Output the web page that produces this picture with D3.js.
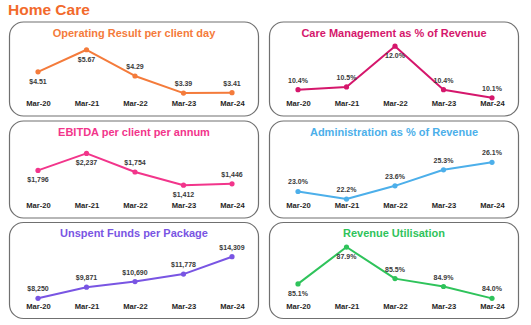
<!DOCTYPE html>
<html><head><meta charset="utf-8">
<script src="https://cdn.jsdelivr.net/npm/d3@7"></script>
<style>
html,body{margin:0;padding:0;background:#fff;}
svg{display:block;font-family:"Liberation Sans",Arial,sans-serif;}
</style></head>
<body>
<script>
// ---- data ----
const categories = ["Mar-20","Mar-21","Mar-22","Mar-23","Mar-24"];
const chartTitles = ["Operating Result per client day","Care Management as % of Revenue","EBITDA per client per annum","Administration as % of Revenue","Unspent Funds per Package","Revenue Utilisation"];
const operatingResult = [4.51, 5.67, 4.29, 3.39, 3.41];
const careManagement = [10.4, 10.5, 12.0, 10.4, 10.1];
const ebitda = [1796, 2237, 1754, 1412, 1446];
const administration = [23.0, 22.2, 23.6, 25.3, 26.1];
const unspentFunds = [8250, 9871, 10690, 11778, 14309];
const revenueUtilisation = [85.1, 87.9, 85.5, 84.9, 84.0];
const yDomains = [[3, 6], [10.0, 12.1], [1040, 2520], [22.15, 28.2], [7860, 16160], [83.8, 88.13]];
const labelSides = [
  ["below","below","above","above","above"],
  ["above","above","below","above","above"],
  ["below","below","above","below","above"],
  ["above","above","above","above","above"],
  ["above","above","above","above","above"],
  ["below","below","above","above","above"]
];
const pageTitle = "Home Care";

const fmtDollar2 = v => "$" + d3.format(".2f")(v);
const fmtDollar0 = v => "$" + d3.format(",.0f")(v);
const fmtPct = v => d3.format(".1f")(v) + "%";

const series = [operatingResult, careManagement, ebitda, administration, unspentFunds, revenueUtilisation];
const formats = [fmtDollar2, fmtPct, fmtDollar0, fmtPct, fmtDollar0, fmtPct];
const colors = ["#F47B3B", "#D5176C", "#F2358B", "#4CAFEA", "#7955E3", "#2FC35B"];

// ---- layout ----
const W = 531, H = 325;
const svg = d3.select("body").append("svg").attr("width", W).attr("height", H);

svg.append("text").attr("x", 8).attr("y", 15)
  .attr("fill", "#F26A2C").attr("font-size", 15.5).attr("font-weight", "bold")
  .text(pageTitle);

const colX = [9, 269];
const panelW = 250;
const rowTop = [21.5, 120.5, 222];
const rowH = [94, 97, 96];

series.forEach((vals, i) => {
  const col = i % 2, row = Math.floor(i / 2);
  const x0 = colX[col], y0 = rowTop[row];
  const g = svg.append("g").attr("transform", `translate(${x0},${y0})`);
  g.append("rect").attr("x", 0.5).attr("y", 0.5).attr("width", panelW - 1).attr("height", rowH[row])
    .attr("rx", 14).attr("ry", 14).attr("fill", "#fff").attr("stroke", "#707070").attr("stroke-width", 1.2);

  g.append("text").attr("x", panelW / 2).attr("y", 11).attr("text-anchor", "middle")
    .attr("dominant-baseline", "central").attr("fill", colors[i])
    .attr("font-size", 11).attr("font-weight", "bold")
    .text(chartTitles[i]);

  const x = d3.scalePoint().domain(categories).range([29, 223]);
  const y = d3.scaleLinear().domain(yDomains[i]).range([79, 22]);

  const xAxis = d3.axisBottom(x).tickSize(0).tickPadding(0);
  const ax = g.append("g").attr("transform", `translate(0,${rowH[row] - 12})`).call(xAxis);
  ax.select(".domain").remove();
  ax.selectAll("text").attr("fill", "#262626").attr("font-size", 7.6).attr("font-weight", "bold")
    .attr("font-family", "'Liberation Sans',Arial,sans-serif").attr("dy", "0.35em").attr("y", 0);

  const line = d3.line().x((d, j) => x(categories[j])).y(d => y(d));
  g.append("path").datum(vals).attr("d", line).attr("fill", "none")
    .attr("stroke", colors[i]).attr("stroke-width", 2).attr("stroke-linejoin", "round");
  g.selectAll("circle.pt").data(vals).enter().append("circle").attr("class", "pt")
    .attr("cx", (d, j) => x(categories[j])).attr("cy", d => y(d)).attr("r", 2.6).attr("fill", colors[i]);
  g.selectAll("text.lbl").data(vals).enter().append("text").attr("class", "lbl")
    .attr("x", (d, j) => x(categories[j]))
    .attr("y", (d, j) => y(d) + (labelSides[i][j] === "above" ? -9.5 : 9.5))
    .attr("text-anchor", "middle").attr("dominant-baseline", "central")
    .attr("fill", "#3a3a3a").attr("font-size", 7).attr("font-weight", "bold")
    .text(d => formats[i](d));
});
</script>
</body></html>
